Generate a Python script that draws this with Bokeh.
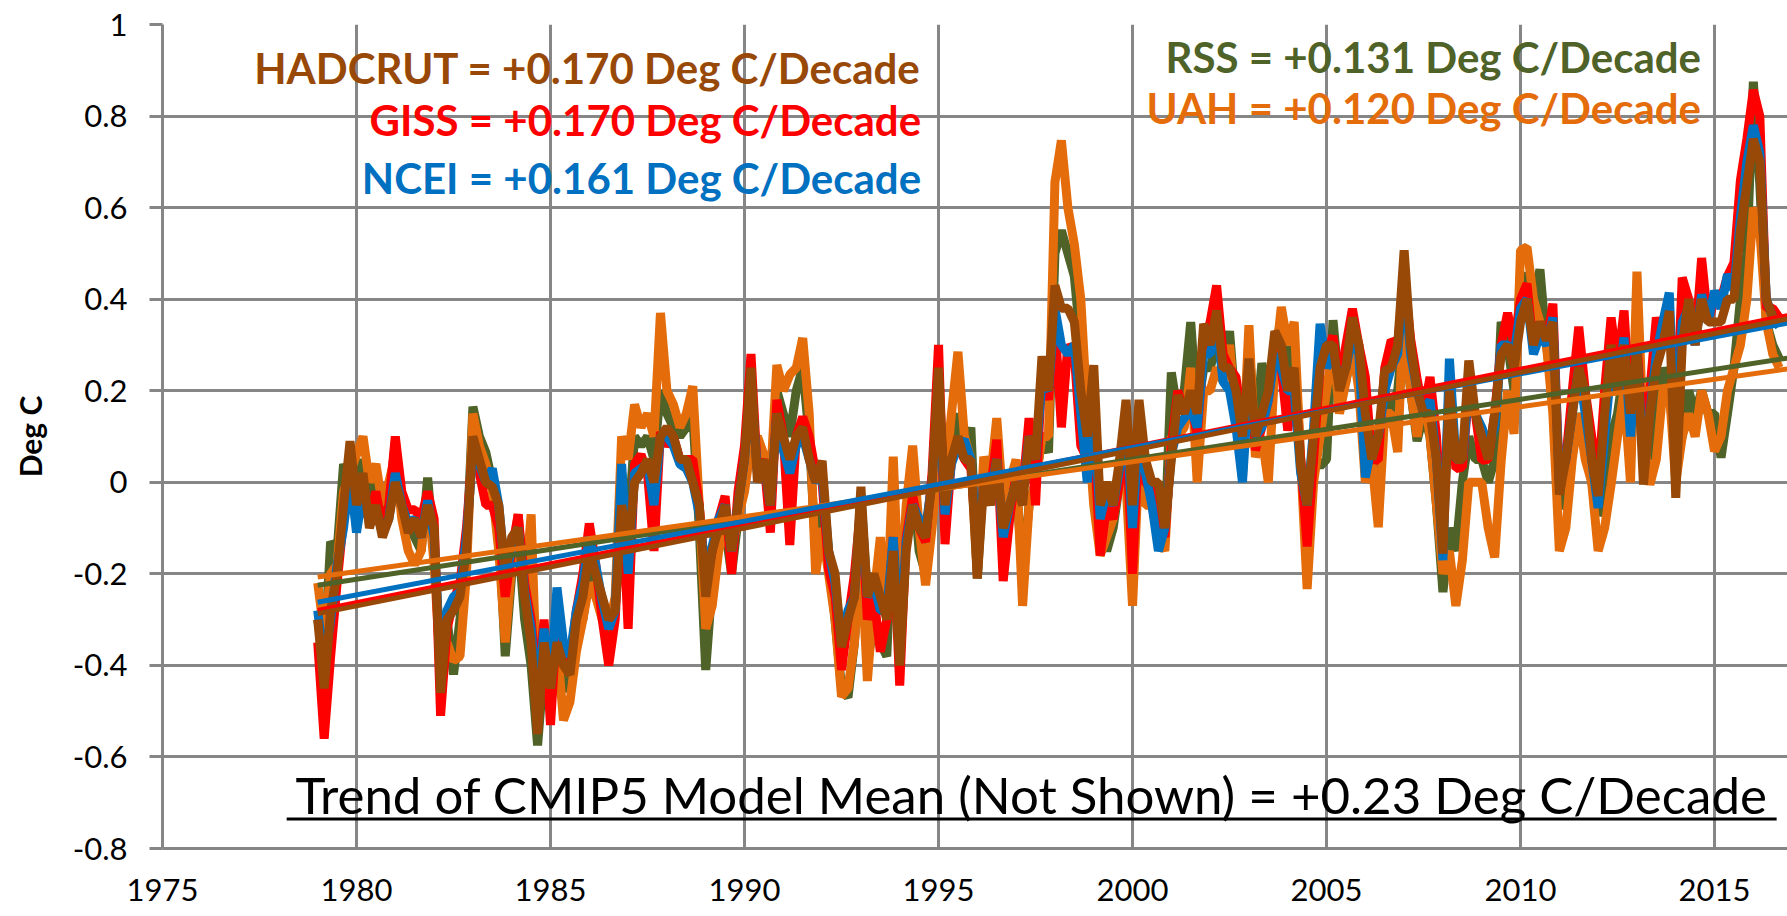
import numpy as np
from bokeh.plotting import figure
from bokeh.models import ColumnDataSource, FixedTicker, CustomJSTickFormatter, Label
from bokeh.embed import file_html
from bokeh.resources import INLINE

# ---------------- data (every 2nd month, Jan 1979 .. Sep 2016) -------------
start_year = 1979
step_months = 2

HADCRUT = [
    -0.30, -0.45, -0.28, -0.20, -0.05, 0.09,      # 1979
    -0.05, 0.02, -0.10, -0.05, -0.12, -0.08,      # 1980
    0.00, -0.05, -0.11, -0.08, -0.12, -0.05,      # 1981
    -0.10, -0.46, -0.30, -0.28, -0.25, -0.15,     # 1982
    0.10, 0.05, 0.00, -0.01, -0.05, -0.20,        # 1983
    -0.12, -0.10, -0.25, -0.35, -0.55, -0.35,     # 1984
    -0.45, -0.35, -0.40, -0.42, -0.30, -0.25,     # 1985
    -0.15, -0.20, -0.25, -0.30, -0.28, -0.05,     # 1986
    -0.15, 0.00, 0.02, 0.05, 0.00, 0.10,          # 1987
    0.12, 0.10, 0.05, 0.05, 0.00, -0.05,          # 1988
    -0.25, -0.15, -0.10, -0.05, -0.15, -0.05,     # 1989
    0.05, 0.25, 0.00, 0.05, -0.05, 0.15,          # 1990
    0.10, 0.05, 0.10, 0.12, 0.05, 0.00,           # 1991
    0.047, -0.15, -0.20, -0.36, -0.30, -0.25,     # 1992
    -0.01, -0.25, -0.20, -0.25, -0.30, -0.15,     # 1993
    -0.40, -0.15, -0.05, -0.10, -0.12, 0.00,      # 1994
    0.25, -0.05, 0.05, 0.10, 0.05, 0.05,          # 1995
    -0.21, 0.00, -0.05, 0.05, -0.10, -0.05,       # 1996
    0.00, -0.05, 0.10, 0.05, 0.275, 0.20,         # 1997
    0.43, 0.38, 0.38, 0.35, 0.20, 0.10,           # 1998
    0.256, -0.05, 0.00, -0.05, 0.05, 0.18,        # 1999
    -0.05, 0.18, 0.05, 0.00, 0.00, -0.10,         # 2000
    0.05, 0.19, 0.15, 0.20, 0.15, 0.346,          # 2001
    0.30, 0.375, 0.25, 0.25, 0.20, 0.10,          # 2002
    0.27, 0.10, 0.15, 0.20, 0.33, 0.30,           # 2003
    0.20, 0.25, 0.035, -0.05, 0.10, 0.25,         # 2004
    0.30, 0.30, 0.20, 0.25, 0.36, 0.30,           # 2005
    0.15, 0.05, 0.10, 0.244, 0.25, 0.30,          # 2006
    0.507, 0.30, 0.20, 0.15, 0.15, 0.05,          # 2007
    -0.156, 0.20, 0.05, 0.05, 0.266, 0.15,        # 2008
    0.10, 0.05, 0.15, 0.28, 0.30, 0.25,           # 2009
    0.35, 0.40, 0.30, 0.35, 0.31, 0.35,           # 2010
    -0.027, 0.05, 0.15, 0.25, 0.20, 0.05,         # 2011
    -0.03, 0.15, 0.30, 0.20, 0.30, 0.15,          # 2012
    0.30, -0.005, 0.15, 0.25, 0.30, 0.374,        # 2013
    -0.034, 0.30, 0.40, 0.30, 0.40, 0.35,         # 2014
    0.35, 0.35, 0.40, 0.40, 0.55, 0.65,           # 2015
    0.75, 0.70, 0.40, 0.36, 0.35,                 # 2016
]

GISS = [
    -0.35, -0.56, -0.38, -0.22, -0.08, 0.05,
    -0.06, 0.00, -0.08, -0.02, -0.10, -0.05,
    0.10, -0.02, -0.06, -0.06, -0.08, -0.02,
    -0.08, -0.51, -0.32, -0.26, -0.22, -0.10,
    0.08, 0.02, -0.05, -0.05, -0.10, -0.25,
    -0.15, -0.07, -0.22, -0.30, -0.45, -0.30,
    -0.53, -0.30, -0.38, -0.40, -0.28, -0.20,
    -0.09, -0.18, -0.30, -0.40, -0.30, -0.02,
    -0.32, 0.04, 0.06, 0.02, -0.15, 0.11,
    0.08, 0.10, 0.05, 0.05, 0.05, -0.05,
    -0.22, -0.15, -0.08, -0.03, -0.20, -0.02,
    0.08, 0.28, 0.02, 0.05, -0.11, 0.18,
    0.10, -0.137, 0.10, 0.143, 0.10, 0.02,
    0.00, -0.19, -0.25, -0.41, -0.30, -0.20,
    -0.05, -0.30, -0.25, -0.37, -0.30, -0.12,
    -0.444, -0.12, -0.03, -0.10, -0.13, 0.02,
    0.30, -0.135, 0.05, 0.08, 0.05, 0.03,
    -0.15, 0.00, -0.02, 0.093, -0.216, -0.08,
    0.02, -0.02, 0.14, -0.05, 0.25, 0.18,
    0.35, 0.12, 0.30, 0.28, 0.08, 0.05,
    0.10, -0.16, -0.05, -0.08, 0.00, 0.12,
    -0.20, 0.10, 0.00, -0.02, -0.05, -0.12,
    0.08, 0.20, 0.15, 0.18, 0.10, 0.30,
    0.35, 0.43, 0.28, 0.25, 0.23, 0.12,
    0.25, 0.07, 0.12, 0.18, 0.30, 0.25,
    0.113, 0.22, 0.05, -0.14, 0.05, 0.25,
    0.28, 0.32, 0.22, 0.30, 0.379, 0.30,
    0.23, 0.05, 0.048, 0.25, 0.31, 0.30,
    0.45, 0.313, 0.226, 0.15, 0.23, 0.10,
    -0.12, 0.22, 0.03, 0.033, 0.20, 0.15,
    0.048, 0.05, 0.15, 0.30, 0.37, 0.30,
    0.40, 0.434, 0.29, 0.35, 0.30, 0.39,
    0.00, 0.05, 0.20, 0.34, 0.20, 0.10,
    0.00, 0.20, 0.36, 0.25, 0.375, 0.15,
    0.30, 0.10, 0.20, 0.36, 0.30, 0.38,
    0.10, 0.447, 0.40, 0.30, 0.49, 0.35,
    0.40, 0.40, 0.45, 0.48, 0.66, 0.75,
    0.857, 0.80, 0.38, 0.38, 0.36,
]

NCEI = [
    -0.28, -0.40, -0.30, -0.18, -0.10, 0.02,
    -0.11, -0.02, -0.09, -0.06, -0.11, -0.08,
    0.02, -0.05, -0.09, -0.08, -0.12, -0.04,
    -0.12, -0.40, -0.28, -0.25, -0.24, -0.12,
    0.07, 0.04, 0.00, 0.03, -0.05, -0.20,
    -0.15, -0.10, -0.24, -0.32, -0.48, -0.32,
    -0.45, -0.23, -0.35, -0.38, -0.28, -0.22,
    -0.12, -0.18, -0.26, -0.32, -0.28, 0.04,
    -0.20, 0.02, 0.03, 0.04, -0.05, 0.10,
    0.10, 0.08, 0.04, 0.03, 0.00, -0.07,
    -0.20, -0.14, -0.08, -0.05, -0.15, -0.05,
    0.05, 0.22, 0.02, 0.04, -0.05, 0.15,
    0.07, 0.02, 0.08, 0.10, 0.05, 0.00,
    0.02, -0.15, -0.22, -0.35, -0.28, -0.25,
    -0.03, -0.25, -0.22, -0.28, -0.28, -0.12,
    -0.35, -0.13, -0.05, -0.08, -0.10, 0.00,
    0.22, -0.07, 0.04, 0.08, 0.093, 0.05,
    -0.15, 0.00, -0.03, 0.05, -0.12, -0.05,
    0.00, -0.03, 0.10, 0.05, 0.22, 0.20,
    0.38, 0.30, 0.28, 0.30, 0.15, 0.00,
    0.15, -0.08, -0.02, -0.05, 0.03, 0.147,
    -0.10, 0.12, 0.02, -0.05, -0.15, -0.10,
    0.06, 0.12, 0.14, 0.16, 0.12, 0.28,
    0.28, 0.35, 0.22, 0.20, 0.12, 0.00,
    0.22, 0.10, 0.12, 0.18, 0.28, 0.25,
    0.20, 0.20, 0.02, -0.05, 0.12, 0.346,
    0.25, 0.28, 0.22, 0.25, 0.32, 0.28,
    0.011, 0.08, 0.10, 0.20, 0.25, 0.28,
    0.45, 0.28, 0.20, 0.15, 0.18, 0.05,
    -0.17, 0.27, 0.05, 0.05, 0.20, 0.15,
    0.12, 0.08, 0.12, 0.30, 0.30, 0.28,
    0.38, 0.40, 0.28, 0.32, 0.30, 0.36,
    0.00, 0.05, 0.15, 0.25, 0.15, 0.05,
    -0.056, 0.10, 0.25, 0.20, 0.316, 0.10,
    0.28, 0.05, 0.15, 0.28, 0.35, 0.414,
    0.05, 0.35, 0.38, 0.30, 0.41, 0.35,
    0.418, 0.38, 0.454, 0.42, 0.58, 0.70,
    0.78, 0.72, 0.40, 0.36, 0.34,
]

RSS = [
    -0.30, -0.38, -0.13, -0.15, 0.04, 0.00,
    -0.02, 0.05, -0.03, 0.00, -0.08, -0.05,
    0.09, -0.05, -0.10, -0.12, -0.15, 0.01,
    -0.15, -0.38, -0.30, -0.42, -0.30, -0.15,
    0.165, 0.10, 0.065, 0.00, -0.10, -0.38,
    -0.20, -0.12, -0.30, -0.40, -0.575, -0.40,
    -0.40, -0.35, -0.45, -0.45, -0.32, -0.30,
    -0.20, -0.25, -0.28, -0.33, -0.28, 0.02,
    -0.10, 0.10, 0.08, 0.10, 0.05, 0.20,
    0.15, 0.12, 0.10, 0.12, 0.15, -0.10,
    -0.41, -0.22, -0.12, -0.10, -0.20, -0.08,
    0.00, 0.10, 0.05, 0.05, -0.02, 0.20,
    0.15, 0.10, 0.20, 0.25, 0.10, -0.15,
    -0.05, -0.15, -0.30, -0.45, -0.47, -0.35,
    -0.10, -0.40, -0.30, -0.35, -0.38, -0.05,
    -0.30, -0.10, 0.02, -0.15, -0.20, -0.05,
    0.10, -0.05, 0.10, 0.15, 0.05, 0.12,
    -0.21, 0.03, -0.05, 0.10, -0.08, -0.05,
    0.00, -0.20, -0.05, 0.00, 0.10, 0.065,
    0.50, 0.55, 0.50, 0.45, 0.30, 0.05,
    0.00, -0.10, -0.15, -0.10, 0.00, 0.05,
    -0.15, 0.10, 0.00, 0.00, -0.05, -0.12,
    0.24, 0.15, 0.20, 0.35, 0.15, 0.25,
    0.25, 0.30, 0.25, 0.33, 0.15, 0.01,
    0.30, 0.10, 0.26, 0.20, 0.30, 0.35,
    0.25, 0.30, 0.05, -0.10, 0.05, 0.035,
    0.05, 0.354, 0.20, 0.22, 0.30, 0.25,
    0.05, 0.10, 0.00, 0.20, 0.15, 0.20,
    0.35, 0.20, 0.09, 0.15, 0.10, -0.05,
    -0.24, -0.10, -0.15, 0.00, 0.10, 0.05,
    0.05, 0.00, 0.05, 0.35, 0.30, 0.20,
    0.45, 0.45, 0.40, 0.465, 0.30, 0.20,
    -0.05, -0.05, 0.10, 0.15, 0.10, 0.00,
    -0.07, -0.05, 0.10, 0.15, 0.25, 0.05,
    0.35, 0.10, 0.05, 0.15, 0.25, 0.20,
    0.05, 0.10, 0.20, 0.15, 0.20, 0.15,
    0.15, 0.054, 0.15, 0.25, 0.40, 0.50,
    0.875, 0.65, 0.35, 0.30, 0.27,
]

UAH = [
    -0.22, -0.33, -0.20, -0.18, -0.02, 0.02,
    0.06, 0.10, 0.00, 0.04, -0.05, 0.00,
    0.06, -0.08, -0.15, -0.18, -0.15, -0.02,
    -0.18, -0.41, -0.35, -0.39, -0.38, -0.20,
    0.15, 0.08, 0.04, -0.02, -0.15, -0.35,
    -0.18, -0.07, -0.25, -0.07, -0.50, -0.38,
    -0.38, -0.35, -0.52, -0.48, -0.37, -0.30,
    -0.22, -0.25, -0.30, -0.32, -0.25, 0.10,
    0.05, 0.17, 0.12, 0.15, 0.10, 0.37,
    0.20, 0.17, 0.12, 0.15, 0.21, -0.05,
    -0.32, -0.27, -0.15, -0.10, -0.15, -0.08,
    -0.02, 0.08, 0.10, 0.06, 0.00, 0.256,
    0.20, 0.235, 0.25, 0.315, 0.15, -0.20,
    -0.10, -0.20, -0.30, -0.468, -0.45, -0.35,
    -0.15, -0.434, -0.25, -0.12, -0.30, 0.056,
    -0.30, -0.05, 0.08, -0.10, -0.225, -0.10,
    0.08, 0.00, 0.15, 0.285, 0.10, 0.05,
    -0.20, 0.056, 0.00, 0.14, -0.05, 0.00,
    0.05, -0.27, -0.05, 0.00, 0.10, 0.10,
    0.656, 0.747, 0.60, 0.52, 0.40, 0.15,
    -0.05, -0.16, -0.12, -0.08, 0.00, 0.00,
    -0.27, 0.05, -0.05, -0.05, -0.12, -0.15,
    0.10, 0.10, 0.12, 0.25, 0.00, 0.20,
    0.20, 0.25, 0.22, 0.30, 0.15, 0.05,
    0.343, 0.055, 0.10, 0.00, 0.25, 0.383,
    0.30, 0.35, 0.05, -0.233, 0.00, 0.10,
    0.20, 0.30, 0.15, 0.22, 0.30, 0.20,
    0.00, 0.05, -0.098, 0.15, 0.15, 0.066,
    0.40, 0.20, 0.10, 0.20, 0.10, -0.05,
    -0.20, -0.15, -0.27, -0.17, 0.00, 0.00,
    0.00, -0.10, -0.164, 0.046, 0.20, 0.106,
    0.507, 0.514, 0.40, 0.35, 0.30, 0.15,
    -0.15, -0.10, 0.05, 0.15, 0.05, 0.00,
    -0.15, -0.10, -0.005, 0.10, 0.20, 0.00,
    0.46, 0.10, -0.005, 0.05, 0.20, 0.20,
    0.00, 0.10, 0.15, 0.10, 0.20, 0.15,
    0.068, 0.10, 0.20, 0.25, 0.30, 0.40,
    0.60, 0.55, 0.35, 0.28, 0.25,
]

series_names = ["RSS", "UAH", "GISS", "NCEI", "HADCRUT"]          # drawing order, bottom to top
series_values = [RSS, UAH, GISS, NCEI, HADCRUT]
series_colors = ["#4F6228", "#E46C0A", "#FF0000", "#0070C0", "#984807"]

# linear trends: value at Jan 1979 and slope in deg C / decade (from the labels)
trend_at_1979 = [-0.225, -0.207, -0.280, -0.262, -0.287]
trend_per_decade = [0.131, 0.120, 0.170, 0.161, 0.170]

x_tick_years = [1975, 1980, 1985, 1990, 1995, 2000, 2005, 2010, 2015]
y_tick_values = [-0.8, -0.6, -0.4, -0.2, 0.0, 0.2, 0.4, 0.6, 0.8, 1.0]

trend_texts_left = ["HADCRUT = +0.170 Deg C/Decade",
                    "GISS = +0.170 Deg C/Decade",
                    "NCEI = +0.161 Deg C/Decade"]
trend_colors_left = ["#984807", "#FF0000", "#0070C0"]
trend_texts_right = ["RSS = +0.131 Deg C/Decade",
                     "UAH = +0.120 Deg C/Decade"]
trend_colors_right = ["#4F6228", "#E46C0A"]
model_text = "Trend of CMIP5 Model Mean (Not Shown) = +0.23 Deg C/Decade"

# ---------------- figure -------------------------------------------------------------------------
X_START, X_END = 1975, 2016.88
Y_START, Y_END = -0.8, 1.0
GRID = "#868686"

p = figure(width=1787, height=916,
           x_range=(X_START, X_END), y_range=(Y_START, Y_END),
           output_backend="svg", toolbar_location=None,
           min_border_left=162, min_border_right=0,
           min_border_top=24, min_border_bottom=68)
p.outline_line_color = None
p.background_fill_color = "white"

FONT = "Lato"

# axes
p.yaxis.ticker = FixedTicker(ticks=y_tick_values)
p.yaxis.formatter = CustomJSTickFormatter(code="return String(Math.round(tick*10)/10);")
p.xaxis.ticker = FixedTicker(ticks=x_tick_years)
for ax in (p.xaxis[0], p.yaxis[0]):
    ax.axis_line_color = GRID
    ax.axis_line_width = 3
    ax.major_tick_line_color = GRID
    ax.major_tick_line_width = 3
    ax.minor_tick_line_color = None
    ax.major_label_text_font = FONT
    ax.major_label_text_font_size = "31px"
    ax.major_label_text_color = "black"
p.yaxis.major_tick_out = 13
p.yaxis.major_tick_in = 0
p.yaxis.major_label_standoff = 22
p.yaxis.axis_label = "Deg C"
p.yaxis.axis_label_text_font = FONT
p.yaxis.axis_label_text_font_style = "bold"
p.yaxis.axis_label_text_font_size = "30px"
p.yaxis.axis_label_text_color = "black"
p.yaxis.axis_label_standoff = 22
p.xaxis.major_tick_out = 0
p.xaxis.major_tick_in = 0
p.xaxis.major_label_standoff = 30

p.xgrid.ticker = FixedTicker(ticks=x_tick_years)
p.ygrid.ticker = FixedTicker(ticks=y_tick_values)
for g in (p.xgrid[0], p.ygrid[0]):
    g.grid_line_color = GRID
    g.grid_line_width = 3

# series
n = len(HADCRUT)
x_dates = start_year + np.arange(n) * step_months / 12.0
for name, vals, col in zip(series_names, series_values, series_colors):
    src = ColumnDataSource(dict(x=x_dates, y=vals))
    p.line("x", "y", source=src, line_color=col, line_width=9, line_join="bevel")

# trend lines
for t0, slope, col in zip(trend_at_1979, trend_per_decade, series_colors):
    tx = [start_year, X_END]
    ty = [t0, t0 + slope * (X_END - start_year) / 10.0]
    p.line(tx, ty, line_color=col, line_width=5)

# annotations
left_y = [0.905, 0.792, 0.664]
for txt, col, yy in zip(trend_texts_left, trend_colors_left, left_y):
    p.add_layout(Label(x=1994.55, y=yy, text=txt, text_align="right", text_baseline="middle",
                       text_font=FONT, text_font_style="bold", text_font_size="42px",
                       text_color=col))
right_y = [0.929, 0.817]
for txt, col, yy in zip(trend_texts_right, trend_colors_right, right_y):
    p.add_layout(Label(x=2014.65, y=yy, text=txt, text_align="right", text_baseline="middle",
                       text_font=FONT, text_font_style="bold", text_font_size="42px",
                       text_color=col))

p.add_layout(Label(x=1997.40, y=-0.681, text=model_text, text_align="center",
                   text_baseline="middle", text_font=FONT, text_font_size="51px",
                   text_color="black"))
p.line([1978.2, 2016.6], [-0.7356, -0.7356], line_color="black", line_width=3)

open("out.html", "w").write(file_html(p, INLINE))
